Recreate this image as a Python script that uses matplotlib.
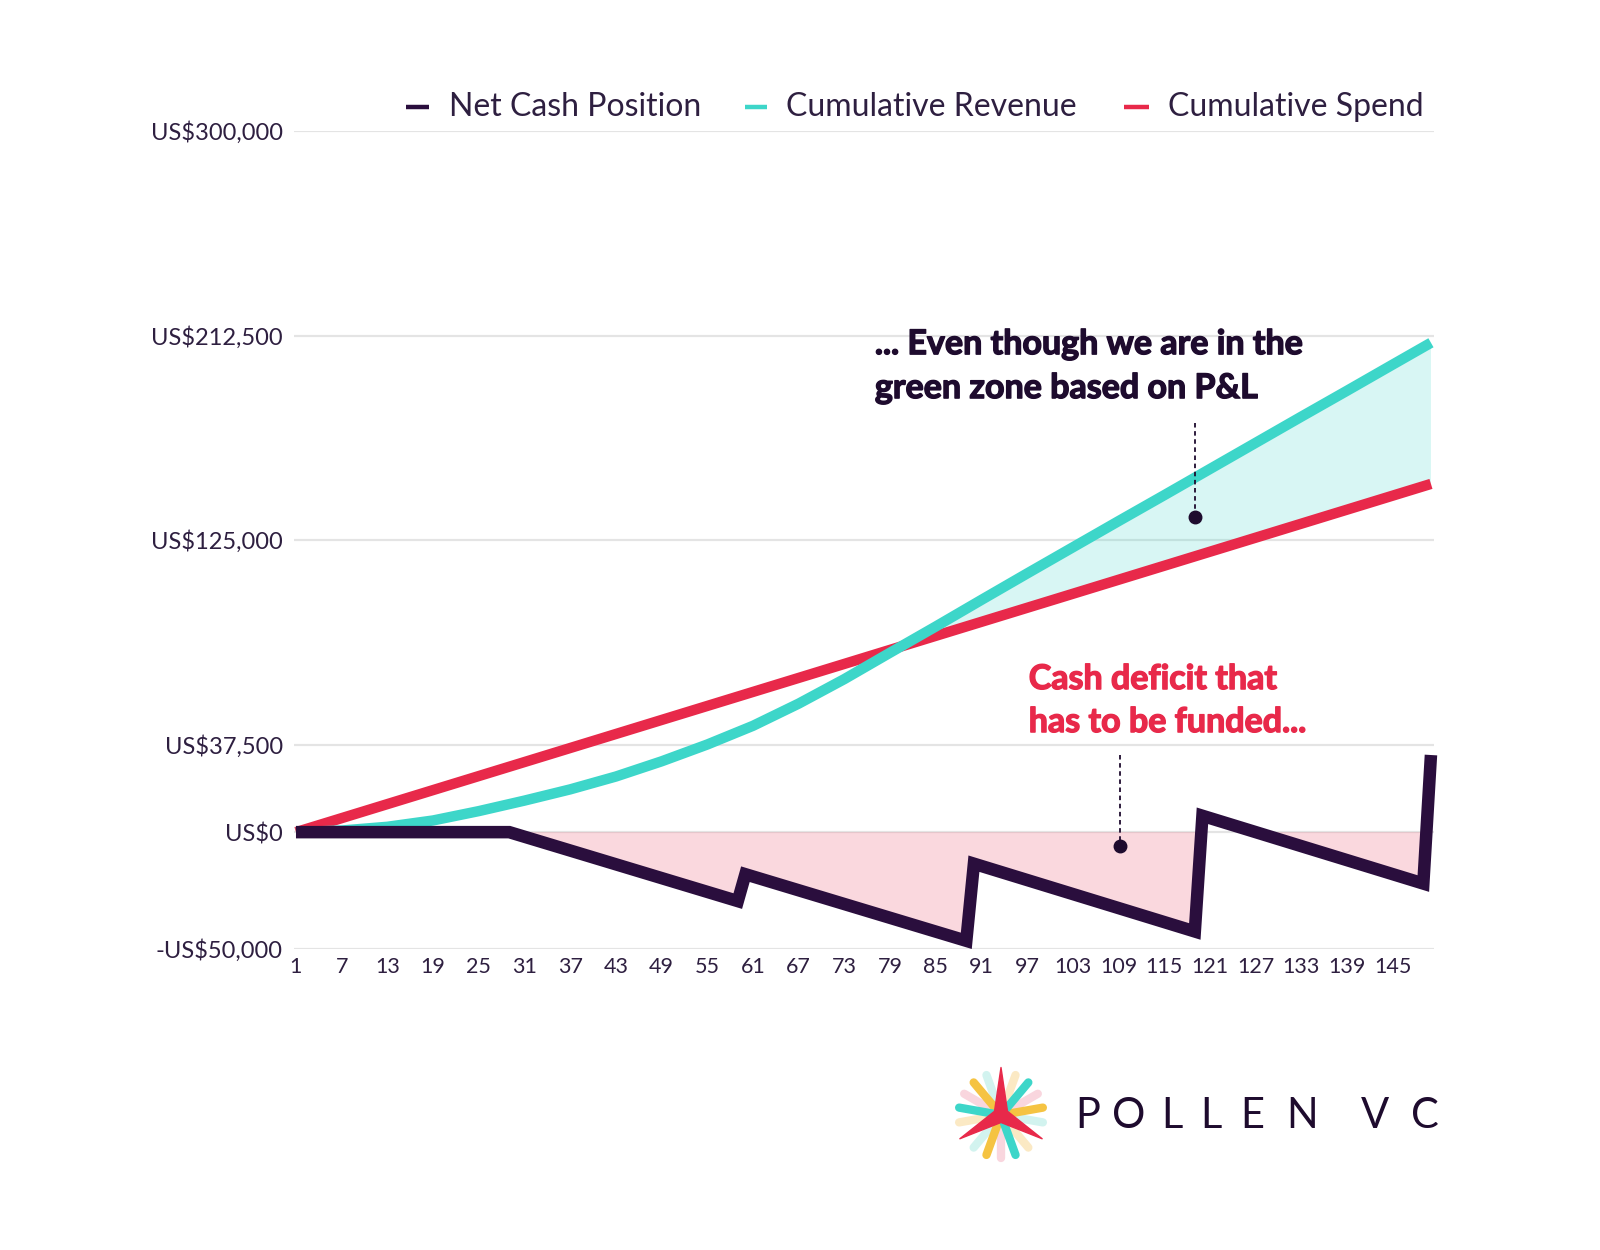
import numpy as np
import matplotlib
matplotlib.use("Agg")
import matplotlib.pyplot as plt
import matplotlib.patheffects as pe
from matplotlib.lines import Line2D
from matplotlib.patches import Polygon

plt.rcParams['font.family'] = ['Lato', 'DejaVu Sans']

# ---------------- data ----------------
days = [1, 7, 13, 19, 25, 31, 37, 43, 49, 55, 61, 67, 73, 79, 85, 91, 97,
        103, 109, 115, 121, 127, 133, 139, 145, 150]
cumulative_revenue = [0, 700, 2300, 5000, 9000, 13500, 18300, 23800, 30300,
                      37500, 45500, 55000, 65500, 76800, 88000, 99400, 110700,
                      121900, 133100, 144200, 155400, 166600, 177800, 188900,
                      200100, 209400]
cumulative_spend = [0, 6000, 12000, 18000, 24000, 30000, 36000, 42000, 48000,
                    54000, 60000, 66000, 72000, 78000, 84000, 90000, 96000,
                    102000, 108000, 114000, 120000, 126000, 132000, 138000,
                    144000, 149000]
net_days = [1, 29, 59, 60, 89, 90, 119, 120, 149, 150]
net_cash = [0, 0, -29500, -18000, -46500, -13500, -42500, 7000, -22000, 33000]

y_ticks = [-50000, 0, 37500, 125000, 212500, 300000]
y_tick_labels = ['-US$50,000', 'US$0', 'US$37,500', 'US$125,000',
                 'US$212,500', 'US$300,000']
x_ticks = list(range(1, 146, 6))

legend_labels = ['Net Cash Position', 'Cumulative Revenue', 'Cumulative Spend']

# ---------------- style ----------------
DARK = '#2a0e3d'
TEAL = '#3dd6c9'
RED = '#e8294a'
YELLOW = '#f5c342'
TXT = '#2e1f40'
INK = '#1e0b2e'

W, H = 1600, 1250
fig = plt.figure(figsize=(W / 100, H / 100), dpi=100)
fig.patch.set_facecolor('white')

ax = fig.add_axes([294 / W, 1 - 949 / H, 1140 / W, 818 / H])
ax.set_xlim(0.74, 150.4)
ax.set_ylim(-50000, 300000)

for s in ax.spines.values():
    s.set_visible(False)
ax.set_yticks(y_ticks)
ax.set_yticklabels(y_tick_labels)
ax.set_xticks(x_ticks)
ax.set_xticklabels([str(t) for t in x_ticks])
ax.tick_params(axis='both', length=0, labelcolor=TXT)
ax.tick_params(axis='y', pad=8, labelsize=17)
ax.tick_params(axis='x', pad=6, labelsize=15.5)
ax.yaxis.grid(True, color='#e4e4e4', lw=1.6)
ax.set_axisbelow(True)

rev = np.array(cumulative_revenue)
spd = np.array(cumulative_spend)
net = np.array(net_cash)

ax.fill_between(days, rev, spd, where=rev >= spd, interpolate=True,
                color=TEAL, alpha=0.2, lw=0, zorder=1)
ax.fill_between(net_days, net, 0, where=net <= 0, interpolate=True,
                color=RED, alpha=0.18, lw=0, zorder=1)

ax.plot(days, cumulative_spend, color=RED, lw=7.5, solid_capstyle='butt',
        zorder=3, clip_on=False)
ax.plot(days, cumulative_revenue, color=TEAL, lw=7.5, solid_capstyle='butt',
        zorder=4, clip_on=False)
ax.plot(net_days, net_cash, color=DARK, lw=9, solid_capstyle='butt',
        solid_joinstyle='miter', zorder=5, clip_on=False)

# annotations
ANN_FS = 24.5
def heavy(color):
    return [pe.withStroke(linewidth=1.0, foreground=color)]

ax.text(77.0, 208800, '... Even though we are in the', fontsize=ANN_FS,
        fontweight='bold', color=INK, va='center', ha='left',
        path_effects=heavy(INK))
ax.text(77.0, 190000, 'green zone based on P&L', fontsize=ANN_FS,
        fontweight='bold', color=INK, va='center', ha='left',
        path_effects=heavy(INK))
ax.plot([119, 119], [175000, 135000], color=INK, lw=1.3,
        ls=(0, (2.5, 2)), zorder=6)
ax.plot([119], [135000], 'o', color=INK, ms=9, zorder=6)

ax.text(97.2, 65500, 'Cash deficit that', fontsize=ANN_FS, fontweight='bold',
        color=RED, va='center', ha='left', path_effects=heavy(RED))
ax.text(97.2, 47100, 'has to be funded...', fontsize=ANN_FS, fontweight='bold',
        color=RED, va='center', ha='left', path_effects=heavy(RED))
ax.plot([109.2, 109.2], [33000, -6000], color=INK, lw=1.3,
        ls=(0, (2.5, 2)), zorder=6)
ax.plot([109.2], [-6000], 'o', color=INK, ms=9, zorder=6)

# legend (manual, top right)
leg_items = [(406, 429, 449, DARK), (745, 767, 786, TEAL), (1124, 1149, 1168, RED)]
ly = 1 - 107 / H
for (x0, x1, xt, c), lab in zip(leg_items, legend_labels):
    fig.add_artist(Line2D([x0 / W, x1 / W], [ly, ly], color=c, lw=3.2,
                          transform=fig.transFigure, solid_capstyle='butt'))
    fig.text(xt / W, ly, lab, fontsize=23, color=TXT, va='center', ha='left')

# logo star
axl = fig.add_axes([(1001 - 50) / W, 1 - (1115 + 50) / H, 100 / W, 100 / H])
axl.set_xlim(-1, 1)
axl.set_ylim(-1, 1)
axl.axis('off')
PALE_P, PALE_T, PALE_Y = '#f9d6de', '#d2f3ef', '#fbe9c4'
arm_colors = {10: YELLOW, 30: PALE_P, 50: TEAL, 70: PALE_Y, 110: PALE_T,
              130: YELLOW, 150: PALE_P, 170: TEAL, 190: PALE_Y, 230: PALE_T,
              250: YELLOW, 270: PALE_P, 290: TEAL, 310: PALE_Y, 350: PALE_T}
for a, c in arm_colors.items():
    r = np.deg2rad(a)
    strong = c in (YELLOW, TEAL)
    axl.plot([0.15 * np.cos(r), 0.85 * np.cos(r)], [0.15 * np.sin(r), 0.85 * np.sin(r)],
             color=c, lw=6, solid_capstyle='round', zorder=2 if strong else 1)
pts = []
for k in range(3):
    tip = np.deg2rad(90 + 120 * k)
    inner = np.deg2rad(150 + 120 * k)
    pts.append((0.95 * np.cos(tip), 0.95 * np.sin(tip)))
    pts.append((0.15 * np.cos(inner), 0.15 * np.sin(inner)))
axl.add_patch(Polygon(pts, closed=True, color=RED, zorder=3, joinstyle='round'))

# logo text
logo_letters = ['P', 'O', 'L', 'L', 'E', 'N', 'V', 'C']
logo_x = [1088, 1129, 1172, 1211, 1252, 1302, 1375, 1425]
for ch, xx in zip(logo_letters, logo_x):
    fig.text(xx / W, 1 - 1116 / H, ch, fontsize=30, fontweight='normal',
             color=INK, ha='center', va='center')

fig.savefig('out.png', dpi=100, facecolor='white')
